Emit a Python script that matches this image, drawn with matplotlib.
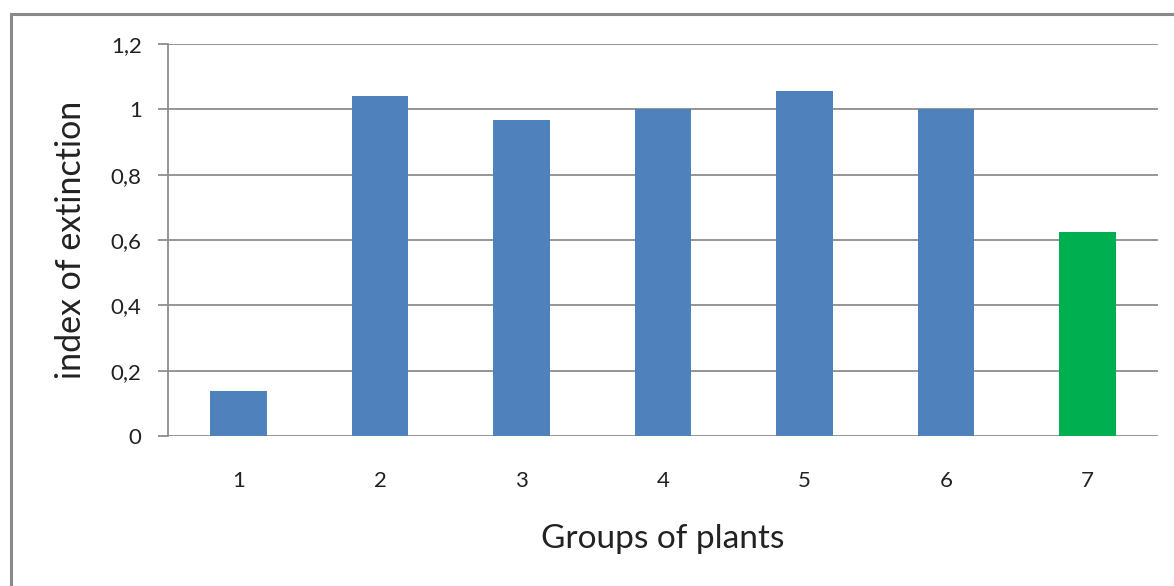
import numpy as np
import matplotlib.pyplot as plt
from matplotlib.patches import Rectangle

plt.rcParams['font.family'] = ['Lato', 'DejaVu Sans']

# index of extinction per plant group
groups = ['1', '2', '3', '4', '5', '6', '7']
extinction = [0.138, 1.041, 0.966, 1.0, 1.056, 1.0, 0.625]
bar_colors = ['#4F81BD'] * 6 + ['#00B050']
yticks = [0, 0.2, 0.4, 0.6, 0.8, 1.0, 1.2]
ytick_labels = ['0', '0,2', '0,4', '0,6', '0,8', '1', '1,2']

W, H = 1174, 586
fig = plt.figure(figsize=(W / 100, H / 100), dpi=100)
ax = fig.add_axes([168 / W, 150 / H, 990 / W, 392 / H])

x = np.arange(len(groups))
ax.bar(x, extinction, width=0.40, color=bar_colors, zorder=3)

ax.set_xlim(-0.5, len(groups) - 0.5)
ax.set_ylim(0, 1.2)
ax.set_yticks(yticks)
ax.set_yticklabels(ytick_labels)
ax.set_xticks(x)
ax.set_xticklabels(groups)

ax.yaxis.grid(True, color='#8c8c8c', linewidth=1.3, zorder=0)
for side in ['top', 'right', 'bottom']:
    ax.spines[side].set_visible(False)
ax.spines['left'].set_color('#8c8c8c')
ax.spines['left'].set_linewidth(1.3)
ax.tick_params(axis='y', length=7, color='#8c8c8c', width=1.3, pad=12,
               labelsize=16, labelcolor='#222222')
ax.tick_params(axis='x', length=0, pad=25, labelsize=16, labelcolor='#222222')

ax.set_ylabel('index of extinction', fontsize=24.5, color='#222222', labelpad=17)
ax.set_xlabel('Groups of plants', fontsize=24, color='#222222', labelpad=24)

# outer chart frame
fig.patches.append(Rectangle((10.5 / W, -0.05), 1.1, 1.05 - 13.5 / H,
                             transform=fig.transFigure, fill=False,
                             edgecolor='#8a8a8a', linewidth=2.2))

fig.savefig('out.png', dpi=100)
